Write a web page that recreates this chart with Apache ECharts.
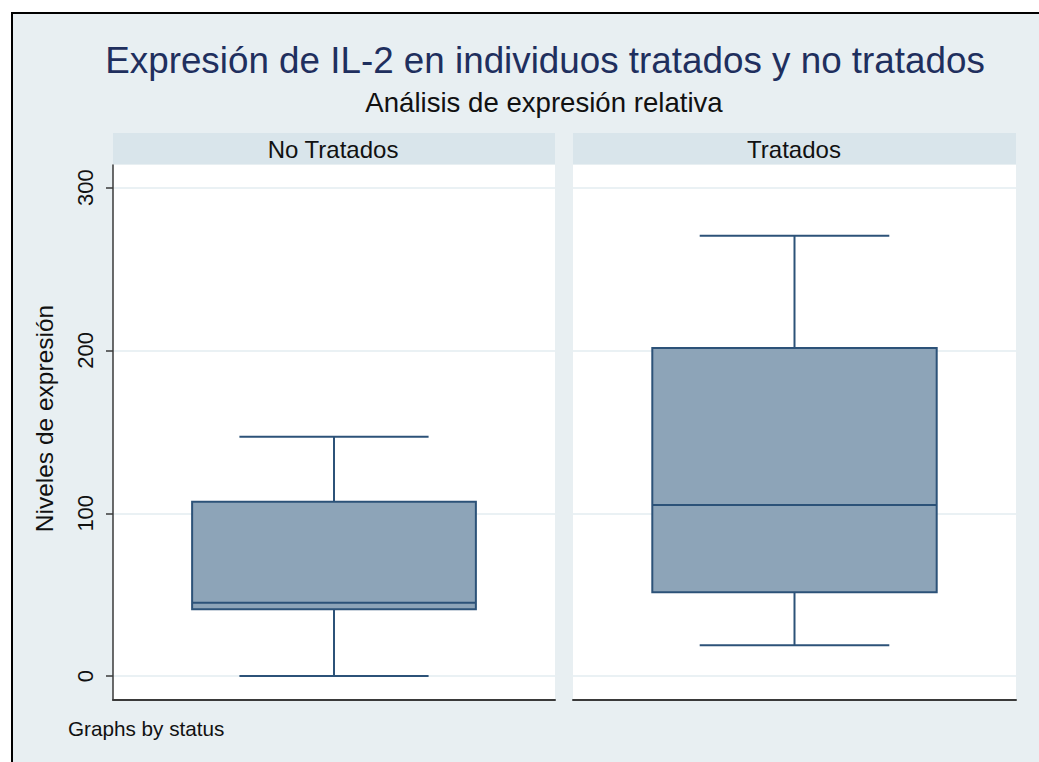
<!DOCTYPE html>
<html>
<head>
<meta charset="utf-8">
<script src="https://cdn.jsdelivr.net/npm/echarts@6/dist/echarts.min.js"></script>
<style>
html,body{margin:0;padding:0;background:#ffffff;}
#frame{position:absolute;left:11px;top:12px;width:1100px;height:800px;border-left:2px solid #000;border-top:2px solid #000;background:#e8eff2;}
#chart{position:absolute;left:0;top:0;width:1039px;height:762px;}
</style>
</head>
<body>
<div id="frame"></div>
<div id="chart"></div>
<script>
// ---- data ----
const categories = ['No Tratados', 'Tratados'];
const whiskerLow = [0, 19];
const q1 = [41, 51.5];
const median = [45, 105];
const q3 = [107, 201.5];
const whiskerHigh = [147, 270.5];
const yTicks = [0, 100, 200, 300];

const titleText = 'Expresión de IL-2 en individuos tratados y no tratados';
const subtitleText = 'Análisis de expresión relativa';
const yName = 'Niveles de expresión';
const noteText = 'Graphs by status';

const FONT = "'Liberation Sans', Arial, sans-serif";
const BOX_FILL = '#8da4b8';
const BOX_LINE = '#2c5278';
const GRID_LINE = '#eaf1f4';
const HEADER_BG = '#d9e5eb';

const boxHalf = 0.321;
const capHalf = 0.214;
const yMin = -14.7, yMax = 313.9;

const panels = [
  {left: 113, right: 1039 - 555},
  {left: 573, right: 1039 - 1016}
];

function renderBox(params, api) {
  const x = api.value(0);
  const lo = api.value(1), a = api.value(2), m = api.value(3), b = api.value(4), hi = api.value(5);
  const pLo = api.coord([x, lo]);
  const pHi = api.coord([x, hi]);
  const pQ1L = api.coord([x - boxHalf, a]);
  const pQ3R = api.coord([x + boxHalf, b]);
  const pMedL = api.coord([x - boxHalf, m]);
  const pMedR = api.coord([x + boxHalf, m]);
  const pQ1 = api.coord([x, a]);
  const pQ3 = api.coord([x, b]);
  const capLoL = api.coord([x - capHalf, lo]);
  const capLoR = api.coord([x + capHalf, lo]);
  const capHiL = api.coord([x - capHalf, hi]);
  const capHiR = api.coord([x + capHalf, hi]);
  const ls = {stroke: BOX_LINE, lineWidth: 2};
  return {
    type: 'group',
    children: [
      {type: 'line', shape: {x1: pHi[0], y1: pHi[1], x2: pQ3[0], y2: pQ3[1]}, style: ls},
      {type: 'line', shape: {x1: pQ1[0], y1: pQ1[1], x2: pLo[0], y2: pLo[1]}, style: ls},
      {type: 'line', shape: {x1: capHiL[0], y1: capHiL[1], x2: capHiR[0], y2: capHiR[1]}, style: ls},
      {type: 'line', shape: {x1: capLoL[0], y1: capLoL[1], x2: capLoR[0], y2: capLoR[1]}, style: ls},
      {type: 'rect', shape: {x: pQ1L[0], y: pQ3R[1], width: pQ3R[0] - pQ1L[0], height: pQ1L[1] - pQ3R[1]},
        style: {fill: BOX_FILL, stroke: BOX_LINE, lineWidth: 2}},
      {type: 'line', shape: {x1: pMedL[0], y1: pMedL[1], x2: pMedR[0], y2: pMedR[1]}, style: ls}
    ]
  };
}

const grids = panels.map(p => ({
  left: p.left, right: p.right, top: 165, bottom: 62,
  show: true, backgroundColor: '#ffffff', borderWidth: 0
}));

const xAxes = panels.map((p, i) => ({
  type: 'value', gridIndex: i, min: 0, max: 1,
  axisLine: {show: true, onZero: false, lineStyle: {color: '#3a3a3a', width: 2}},
  axisTick: {show: false}, axisLabel: {show: false}, splitLine: {show: false}
}));

const yAxes = panels.map((p, i) => ({
  type: 'value', gridIndex: i, min: yMin, max: yMax,
  name: i === 0 ? yName : '',
  nameLocation: 'middle', nameRotate: 90, nameGap: 56,
  nameTextStyle: {fontFamily: FONT, fontSize: 24.5, color: '#111', padding: [0, 0, 0, 28]},
  axisLine: {show: i === 0, lineStyle: {color: '#3a3a3a', width: 1.5}},
  axisTick: {show: i === 0, length: 7, lineStyle: {color: '#3a3a3a', width: 1.5}, customValues: yTicks},
  axisLabel: {show: i === 0, customValues: yTicks, rotate: 90, margin: 17,
    fontFamily: FONT, fontSize: 22, color: '#111'},
  splitLine: {show: true, lineStyle: {color: GRID_LINE, width: 2}}
}));

const series = categories.map((c, i) => ({
  type: 'custom', name: c, xAxisIndex: i, yAxisIndex: i,
  renderItem: renderBox,
  data: [[0.5, whiskerLow[i], q1[i], median[i], q3[i], whiskerHigh[i]]],
  silent: true
}));

const graphics = [
  {type: 'text', x: 545, y: 60, style: {text: titleText, font: `36.8px ${FONT}`, fill: '#1f2f5e', textAlign: 'center', textVerticalAlign: 'middle'}},
  {type: 'text', x: 544, y: 102, style: {text: subtitleText, font: `27.6px ${FONT}`, fill: '#111', textAlign: 'center', textVerticalAlign: 'middle'}},
  {type: 'rect', shape: {x: 113, y: 133, width: 442, height: 31}, style: {fill: HEADER_BG}},
  {type: 'rect', shape: {x: 573, y: 133, width: 443, height: 31}, style: {fill: HEADER_BG}},
  {type: 'text', x: 333, y: 149, style: {text: categories[0], font: `24px ${FONT}`, fill: '#111', textAlign: 'center', textVerticalAlign: 'middle'}},
  {type: 'text', x: 794, y: 149, style: {text: categories[1], font: `24px ${FONT}`, fill: '#111', textAlign: 'center', textVerticalAlign: 'middle'}},
  {type: 'text', x: 68, y: 728, style: {text: noteText, font: `20.7px ${FONT}`, fill: '#111', textAlign: 'left', textVerticalAlign: 'middle'}}
];

const chart = echarts.init(document.getElementById('chart'), null, {renderer: 'svg', width: 1039, height: 762});
chart.setOption({
  backgroundColor: 'transparent',
  animation: false,
  grid: grids,
  xAxis: xAxes,
  yAxis: yAxes,
  series: series,
  graphic: graphics
});
</script>
</body>
</html>
